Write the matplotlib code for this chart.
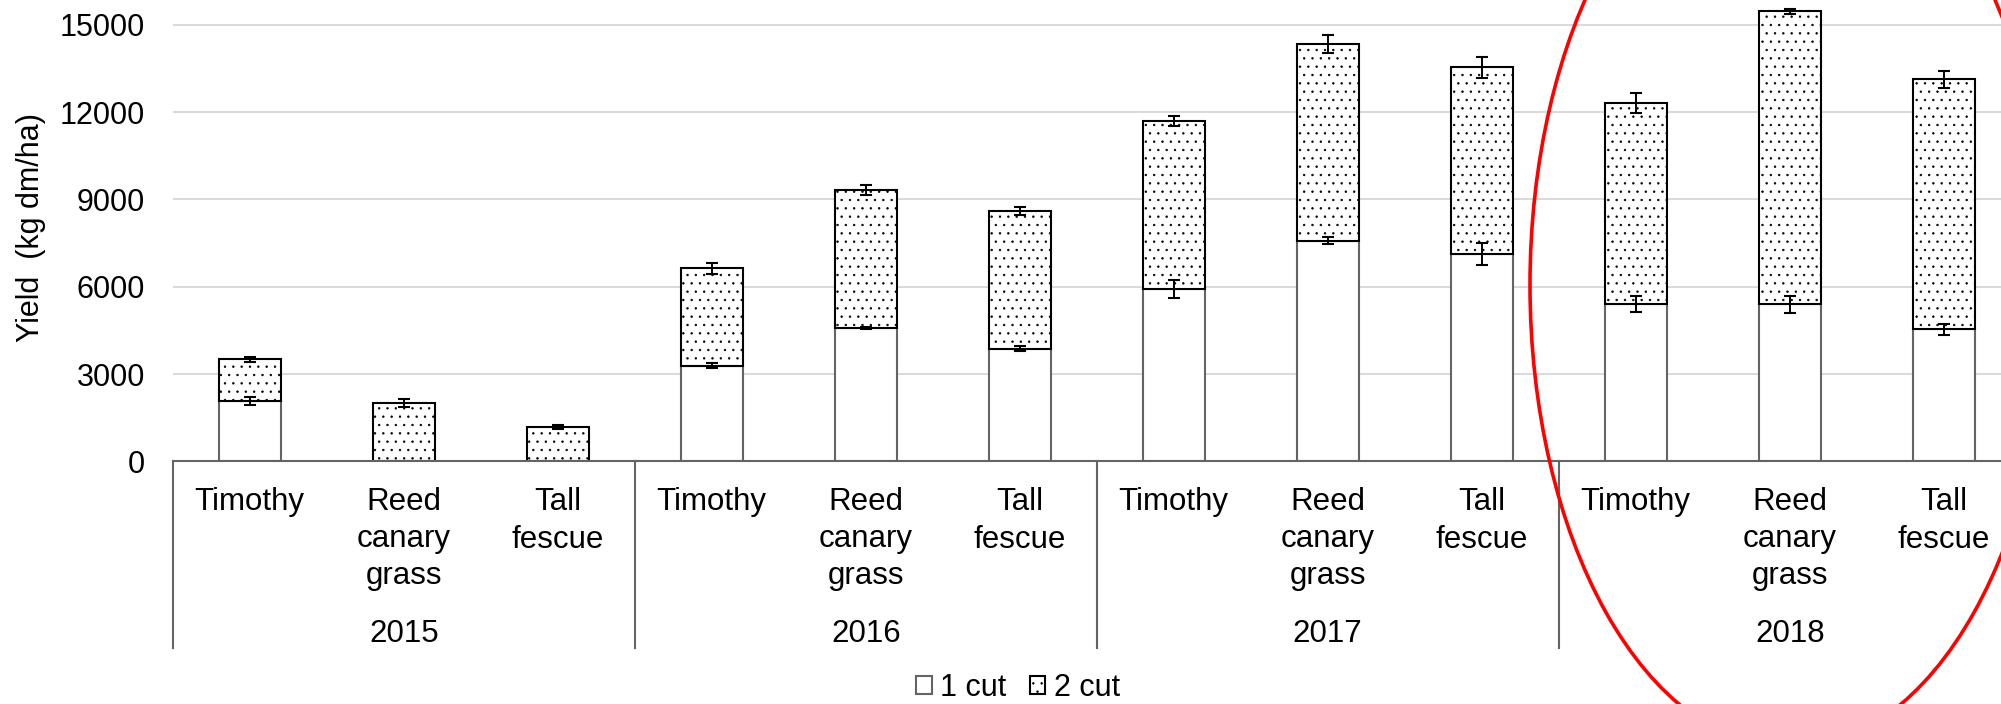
import matplotlib
matplotlib.use('Agg')
import matplotlib.pyplot as plt
import matplotlib.transforms as transforms
from matplotlib.patches import Ellipse, Rectangle
import numpy as np

plt.rcParams['font.family'] = ['Liberation Sans', 'DejaVu Sans']
plt.rcParams['hatch.linewidth'] = 0.5

# data (kg dm/ha)
years = ['2015', '2016', '2017', '2018']
species = [['Timothy'], ['Reed', 'canary', 'grass'], ['Tall', 'fescue']]
cut1 = [2080, 0, 0, 3290, 4580, 3870, 5920, 7580, 7120, 5400, 5400, 4540]
cut2 = [1425, 2015, 1190, 3340, 4750, 4720, 5780, 6770, 6420, 6920, 10060, 8585]
err1 = [140, 0, 0, 90, 45, 85, 320, 115, 365, 265, 290, 190]
err2 = [80, 135, 70, 190, 180, 135, 165, 305, 370, 345, 85, 285]

W, H = 2001, 704
fig = plt.figure(figsize=(W / 100, H / 100), dpi=100)
ax = fig.add_axes([172.7 / W, 1 - 461.3 / H, 1848 / W, 461.3 / H])

n = len(cut1)
x = np.arange(n)
cut1 = np.array(cut1, dtype=float)
cut2 = np.array(cut2, dtype=float)
total = cut1 + cut2

ax.bar(x, cut1, width=0.4, color='white', edgecolor='#646464', linewidth=1.5, zorder=2)
ax.bar(x, cut2, bottom=cut1, width=0.4, color='white', edgecolor='black',
       hatch='..', linewidth=1.5, zorder=2)

has1 = cut1 > 0
ax.errorbar(x[has1], cut1[has1], yerr=np.array(err1)[has1], fmt='none', ecolor='black',
            elinewidth=1.4, capsize=4.3, capthick=1.5, zorder=4)
ax.errorbar(x, total, yerr=err2, fmt='none', ecolor='black',
            elinewidth=1.4, capsize=4.3, capthick=1.5, zorder=4)

ax.set_xlim(-0.5, n - 0.5)
ax.set_ylim(0, 461.3 * 3000 / 87.3)
ax.set_yticks(np.arange(0, 15001, 3000))
ax.set_xticks([])
ax.tick_params(axis='y', length=0, pad=20, labelsize=22, labelcolor='black')
ax.grid(axis='y', color='#d9d9d9', linewidth=1.4)
ax.set_axisbelow(True)
for s in ['left', 'right', 'top']:
    ax.spines[s].set_visible(False)
ax.spines['bottom'].set_color('#646464')
ax.spines['bottom'].set_linewidth(1.5)

# multi-level category axis
trans = transforms.blended_transform_factory(ax.transData, fig.transFigure)
line_px = [510, 547.5, 584]
for i in range(n):
    for j, word in enumerate(species[i % 3]):
        ax.text(i, 1 - line_px[j] / H, word, transform=trans, ha='center',
                va='baseline', fontsize=22.5, clip_on=False)
for g, yr in enumerate(years):
    ax.text(g * 3 + 1, 1 - 641.7 / H, yr, transform=trans, ha='center',
            va='baseline', fontsize=22.5, clip_on=False)
for g in range(len(years) + 1):
    ax.plot([g * 3 - 0.5, g * 3 - 0.5], [1 - 461.3 / H, 1 - 648 / H], transform=trans,
            color='#646464', linewidth=1.5, clip_on=False)

fig.text(31 / W, 1 - 228 / H, 'Yield  (kg dm/ha)', rotation=90, ha='center',
         va='center', fontsize=22)

h1 = Rectangle((0, 0), 1, 1, facecolor='white', edgecolor='#646464', linewidth=1.5)
h2 = Rectangle((0, 0), 1, 1, facecolor='white', edgecolor='black', hatch='..', linewidth=1.5)
fig.legend([h1, h2], ['1 cut', '2 cut'], loc='center', bbox_to_anchor=(1018 / W, 1 - 688 / H),
           bbox_transform=fig.transFigure, ncol=2, frameon=False, fontsize=22,
           handlelength=0.5, handleheight=0.5, handletextpad=0.28, columnspacing=0.76,
           borderpad=0)

fig.add_artist(Ellipse((1790 / W, 1 - 285 / H), 520 / W, 927 / H, transform=fig.transFigure,
                       fill=False, edgecolor='#ff0000', linewidth=2.6, zorder=10))

fig.savefig('out.png', dpi=100)
